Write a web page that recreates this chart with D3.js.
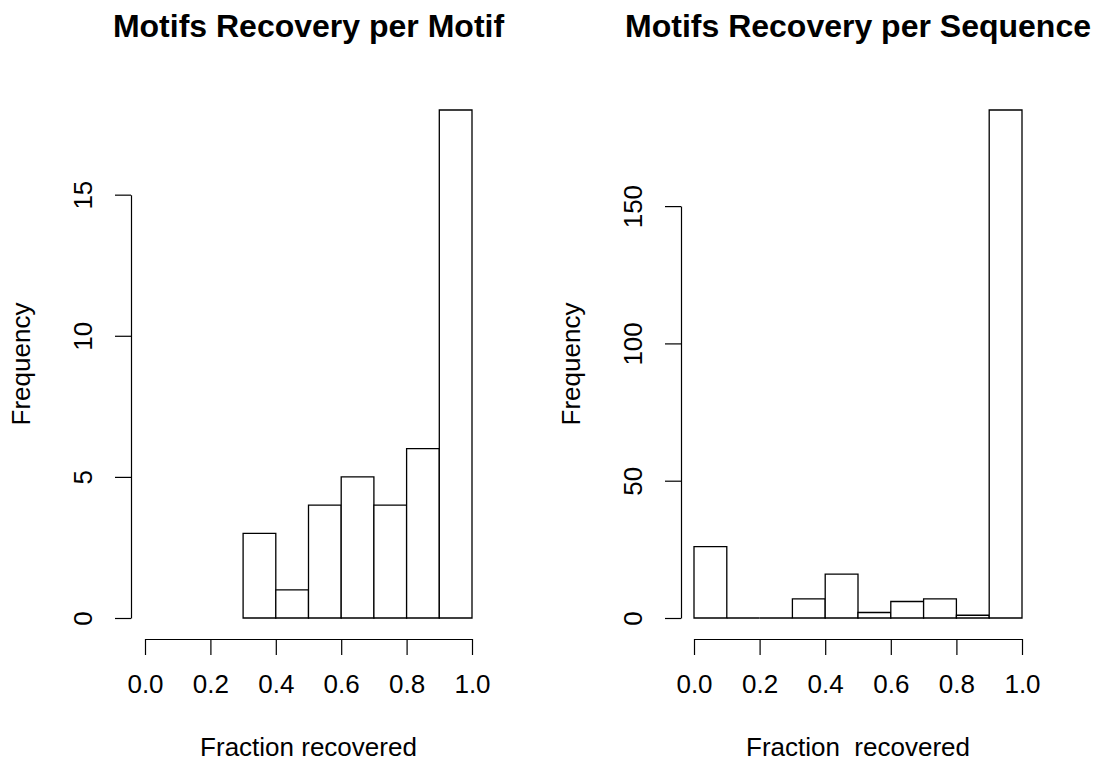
<!DOCTYPE html>
<html>
<head>
<meta charset="utf-8">
<script src="https://cdn.jsdelivr.net/npm/d3@7"></script>
<style>
  body { margin: 0; background: #fff; }
  svg { display: block; }
  text { font-family: "Liberation Sans", Arial, Helvetica, sans-serif; fill: #000; }
  .bar { fill: #fff; stroke: #000; stroke-width: 1.3; }
  .axis path, .axis line { stroke: #000; stroke-width: 1.2; }
</style>
</head>
<body>
<svg id="chart" width="1095" height="763"></svg>
<script>
// data
const motifBreaks = [0.3, 0.4, 0.5, 0.6, 0.7, 0.8, 0.9, 1.0];
const motifCounts = [3, 1, 4, 5, 4, 6, 18];
const seqBreaks = [0.0, 0.1, 0.2, 0.3, 0.4, 0.5, 0.6, 0.7, 0.8, 0.9, 1.0];
const seqCounts = [26, 0, 0, 7, 16, 2, 6, 7, 1, 185];
const xTicks = [0, 0.2, 0.4, 0.6, 0.8, 1.0];
const motifYTicks = [0, 5, 10, 15];
const seqYTicks = [0, 50, 100, 150];

const svg = d3.select('#chart');
const yZero = 618, xAxisY = 639, tickLen = 16;

function renderHist(p){
    let g = svg.append('g');
    let x = d3.scaleLinear().domain([0, 1]).range([p.x0, p.x1]);
    let y = d3.scaleLinear().domain([0, p.ymax]).range([yZero, p.ytop]);

    let bins = p.counts.map((c, i) => ({lo: p.breaks[i], hi: p.breaks[i + 1], n: c}));
    // outlines as paths so empty bins still show as a line on the baseline
    g.selectAll('path.bar')
        .data(bins)
        .enter().append('path')
        .attr('class', 'bar')
        .attr('d', d => `M${x(d.lo)},${y(0)}V${y(d.n)}H${x(d.hi)}V${y(0)}Z`);

    // x axis
    let xAxis = d3.axisBottom(x).tickValues(xTicks)
        .tickFormat(d3.format('.1f')).tickSize(tickLen).tickSizeOuter(0).tickPadding(20);
    g.append('g')
        .attr('class', 'axis')
        .attr('transform', `translate(0, ${xAxisY})`)
        .call(xAxis)
        .selectAll('text').style('font-size', '26px');

    // y axis, line only spans the labelled ticks
    let yt = p.yTicks;
    let yA = y.copy().domain([yt[0], yt[yt.length - 1]]).range([y(yt[0]), y(yt[yt.length - 1])]);
    let yAxis = d3.axisLeft(yA).tickValues(yt).tickSize(tickLen).tickSizeOuter(0);
    let ya = g.append('g')
        .attr('class', 'axis')
        .attr('transform', `translate(${p.axisX}, 0)`)
        .call(yAxis);
    ya.selectAll('text')
        .attr('transform', 'rotate(-90)')
        .attr('x', 0)
        .attr('y', -39)
        .attr('dy', 0)
        .attr('text-anchor', 'middle')
        .style('font-size', '26px');

    g.selectAll('.axis text').attr('fill', '#000');
    g.selectAll('.axis').attr('font-family', null).attr('font-size', null);

    let cx = (x(0) + x(1)) / 2;
    g.append('text')
        .attr('x', cx).attr('y', 37)
        .attr('text-anchor', 'middle')
        .style('font-size', '32px').style('font-weight', 'bold')
        .text(p.title);

    g.append('text')
        .attr('x', cx).attr('y', 756)
        .attr('text-anchor', 'middle')
        .style('font-size', '26px')
        .style('white-space', 'pre')
        .text(p.xlab);

    g.append('text')
        .attr('transform', `translate(${p.axisX - 101}, 364) rotate(-90)`)
        .attr('text-anchor', 'middle')
        .style('font-size', '26px')
        .text('Frequency');
}

renderHist({
    title: 'Motifs Recovery per Motif', xlab: 'Fraction recovered',
    breaks: motifBreaks, counts: motifCounts, yTicks: motifYTicks,
    x0: 145, x1: 472, axisX: 131, ymax: 18, ytop: 110
});
renderHist({
    title: 'Motifs Recovery per Sequence', xlab: 'Fraction  recovered',
    breaks: seqBreaks, counts: seqCounts, yTicks: seqYTicks,
    x0: 694, x1: 1022, axisX: 681, ymax: 185, ytop: 110
});
</script>
</body>
</html>
